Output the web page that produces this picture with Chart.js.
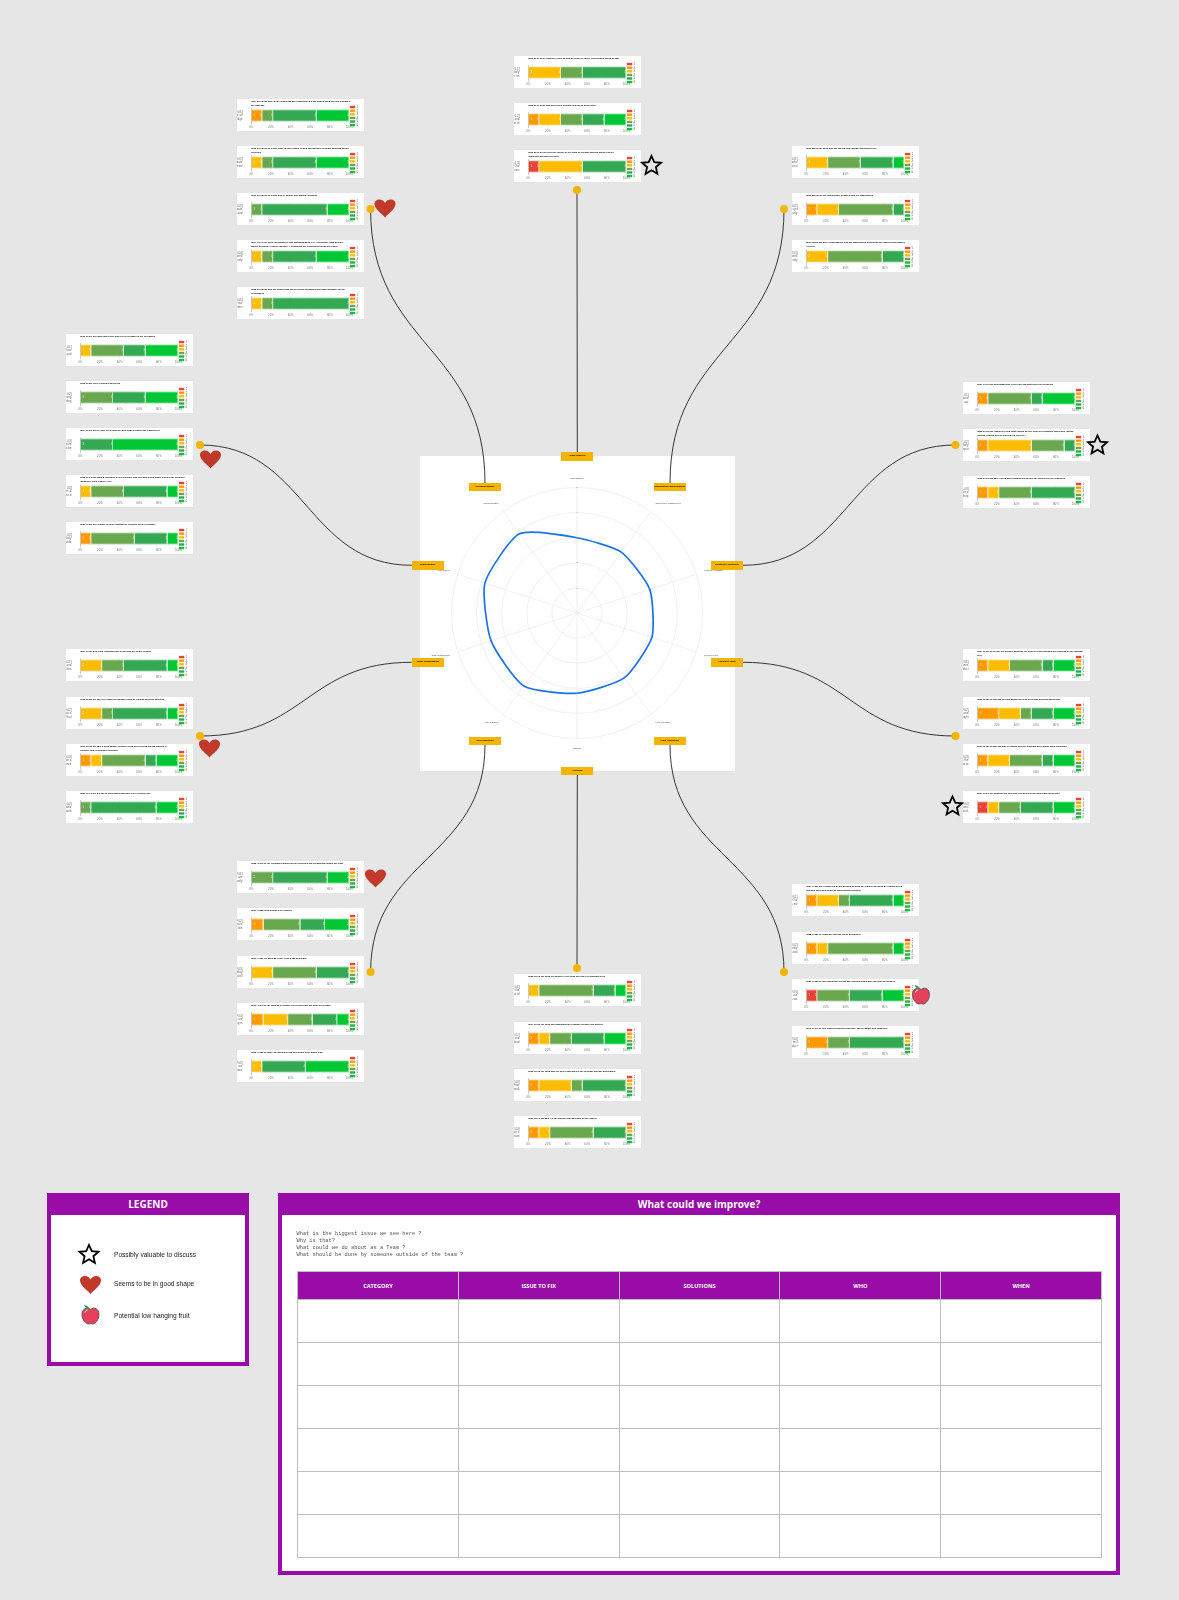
<!DOCTYPE html>
<html><head><meta charset="utf-8">
<script src="https://cdn.jsdelivr.net/npm/chart.js@4"></script>
<style>
html,body{margin:0;padding:0;background:#e6e6e6}
#page{position:relative;width:1179px;height:1600px;overflow:hidden;background:#e6e6e6;font-family:"Liberation Sans",Arial,sans-serif}
.card{position:absolute;width:126.5px;height:32px;background:#fff;overflow:hidden}
.card canvas{position:absolute;left:0;top:0}
.ct{position:absolute;left:14.3px;top:1.4px;font:bold 2.15px/3.6px "Liberation Sans";color:#000;white-space:nowrap}
#panel{position:absolute;left:420px;top:456px;width:315px;height:315px;background:#fff}
#panel canvas{position:absolute;left:0;top:0}
.tag{position:absolute;width:32px;height:8.5px;background:#f4b400;color:#000;font:bold 2.5px/8.5px "Liberation Sans";text-align:center;white-space:nowrap}
svg.over{position:absolute;left:0;top:0;pointer-events:none}
.box{position:absolute;box-sizing:border-box;border:4px solid #990ca8;background:#fff}
.hd{position:absolute;left:-4px;right:-4px;top:-4px;height:22px;background:#990ca8;color:#fff;font:bold 10px/22px "Open Sans";text-align:center}
.li{position:absolute;left:114px;font:6.6px/10px "Liberation Sans";color:#222;transform:translateZ(0)}
#q{position:absolute;left:296.5px;top:1231px;font:5.35px/7.1px "Liberation Mono";color:#555;white-space:pre;transform:translateZ(0)}
table{position:absolute;left:297px;top:1271px;width:805px;border-collapse:collapse;table-layout:fixed}
th,td{border:1px solid #bdbdbd;padding:0}
th{background:#990ca8;color:#fff;font:bold 5.6px "Open Sans";height:27px}
td{background:#fff;height:42px}
</style></head><body><div id="page">
<div id="panel"><canvas id="radar" width="315" height="315"></canvas></div>
<svg class="over" width="1179" height="1600" id="lines"></svg>
<div class="box" style="left:47px;top:1193px;width:202px;height:173px"><div class="hd">LEGEND</div></div>
<div class="box" style="left:278px;top:1193px;width:842px;height:382px"><div class="hd">What could we improve?</div></div>
<div class="li" style="top:1250px">Possibly valuable to discuss</div>
<div class="li" style="top:1279px">Seems to be in good shape</div>
<div class="li" style="top:1311px">Potential low hanging fruit</div>
<div id="q">What is the biggest issue we see here ?
Why is that?
What could we do about as a Team ?
What should be done by someone outside of the team ?</div>
<table id="tbl"></table>
</div>
<script>
// ---------- chart data ----------
const seriesNames = ['1','2','3','4','5','6'];
const seriesColors = ['#ea4335','#ff9900','#fbbc04','#6aa84f','#34a853','#00c733'];
const xTickLabels = ['0%','20%','40%','60%','80%','100%'];

const radarCategories = ['Team Stability','Stakeholder Management','Customer Centricity','Product Focus','Flow Validation','Purpose','Agile practices','Team Organization','Team culture','Communication'];
const radarValues = [3.0,3.0,3.05,3.14,3.2,3.2,3.6,3.6,3.86,3.9];
const radarTicks = [0,1,2,3,4,5];

const topTitles = [
 ['[Q01 ST.01.1] We regularly reflect on how we could be (more) improvement-based on that'],
 ['[Q02 ST.01.2] We plan and deliver in stable and not on-going basis'],
 ['[Q03 ST.01.3] Our deliveries involve all our team on relevant ongoing and at least on','improvements based on them']];
const topValues = [[0,0,3,2,4,0],[0,1,2,2,2,2],[1,0,4,0,4,0]];

const topLeftTitles = [
 ['[Q04 CO.01] We have all the knowledge and competences in the team to build the right product in','the right way'],
 ['[Q05 CO.02] We co-create value in new product-related workshops to generate solutions during','discovery'],
 ['[Q06 CO.03] We co-create and co-analyse and quantify solutions'],
 ['[Q07 CO.04] We work collaboratively with Marketing/Sales (e.g. Architecture, Data Science,','Market Research, Product Analytics...) throughout the Product Development Process'],
 ['[Q08 CO.05] We take our discussions and decisions transparent and understandable for the','organization']];
const topLeftValues = [[0,1,0,1,4,3],[0,0,1,1,4,3],[0,0,0,1,6,2],[0,0,1,1,4,3],[0,0,1,1,7,0]];

const topRightTitles = [
 ['[Q09 SM.01] We know who our internal and external stakeholders are'],
 ['[Q10 SM.02] We get continuously feedback from our stakeholders'],
 ['[Q11 SM.03] We work collaboratively with our stakeholders throughout the Product Development','Process']];
const topRightValues = [[0,0,2,3,3,1],[0,1,2,5,1,0],[0,0,2,5,2,0]];

const leftUpTitles = [
 ['[Q12 TC.01] We know how to give and receive feedback to our colleagues'],
 ['[Q13 TC.02] Have a strong team feeling'],
 ['[Q14 TC.03] We feel safe to be ourselves and speak up within the team/project'],
 ['[Q15 TC.04] We share & recognise a clear feedback with colleagues from higher levels of the hierarchy','(Bosshold, Third leaders, VPs)'],
 ['[Q16 TC.05] We regularly provide constructive feedback to our colleagues']];
const leftUpValues = [[0,0,1,3,2,3],[0,0,0,3,3,3],[0,0,0,0,3,6],[0,0,1,3,4,1],[0,1,0,4,3,1]];

const leftDownTitles = [
 ['[Q17 TO.01] Roles and responsibilities in our team are clearly defined'],
 ['[Q18 TO.02] We work as a team that improves itself on learning and team activities'],
 ['[Q19 TO.03] We have a good balance between being silos & functions and working in','balanced and collaborative teamings'],
 ['[Q20 TO.04] We are able to work asynchronously in our effective way']];
const leftDownValues = [[0,0,2,2,4,1],[0,0,2,1,5,1],[0,1,1,4,1,2],[0,0,0,1,6,2]];

const rightUpTitles = [
 ['[Q21 CC.01] We understand who is our user and what drives our problems'],
 ['[Q22 CC.02] We regularly review input coming directly from our customers (interviews, ratings,','reviews, support tickets) and react to (NPS etc.)'],
 ['[Q23 CC.03] We have a deep understanding about how our solutions fit our customers']];
const rightUpValues = [[0,1,0,4,1,3],[0,1,4,3,1,0],[0,1,1,3,4,0]];

const rightDownTitles = [
 ['[Q24 PF.01] We believe our product solutions, we focus on understanding the problems of our customer','first'],
 ['[Q25 PF.02] We test and try right amount of ideas to validate problems thoroughly'],
 ['[Q26 PF.03] We take the time to explore possible solutions and validate them thoroughly'],
 ['[Q27 PF.04] Our solutions are improved, fast at delivering significant value/result']];
const rightDownValues = [[0,1,2,3,1,2],[0,2,2,1,2,2],[0,1,2,3,1,2],[1,0,1,2,3,2]];

const bottomLeftTitles = [
 ['[Q28 AP.01] We are constantly improving our processes and collaboration within our team'],
 ['[Q29 AP.02] Retrospectives are effective'],
 ['[Q30 AP.03] Our Backlog is well refined and prioritized'],
 ['[Q31 AP.04] We are working in iterative cycles which are not much overloaded'],
 ['[Q32 AP.05] We make our intentions and increments fit the whole team']];
const bottomLeftValues = [[0,0,0,2,5,2],[0,1,0,3,2,2],[0,0,2,4,3,0],[0,1,2,2,2,1],[0,0,1,0,4,4]];

const bottomTitles = [
 ['[Q33 PU.01] We know the purpose of our team and how it is important to us'],
 ['[Q34 PU.02] We know and understand the company purpose and strategy'],
 ['[Q35 PU.03] We know how our work contributes to the company purpose and strategy'],
 ['[Q36 PU.04] We have a clear mission and ownership of our product']];
const bottomValues = [[0,0,1,5,2,1],[0,1,1,2,3,2],[0,1,3,1,4,0],[0,1,1,4,3,0]];

const bottomRightTitles = [
 ['[Q37 FV.01] Our Hypotheses we are working on when we explore new ideas are Hypothesis on','potential outcomes before we start building solutions'],
 ['[Q38 FV.02] We frequently test and revise hypotheses'],
 ['[Q39 FV.03] We use hypotheses we test and can understand why each test did succeed'],
 ['[Q40 FV.04] We test product solutions frequently, fast in contact with customers']];
const bottomRightValues = [[0,1,2,1,4,1],[0,1,1,6,0,1],[1,0,0,3,3,2],[0,2,0,2,5,0]];

const tableHeaders = ['CATEGORY','ISSUE TO FIX','SOLUTIONS','WHO','WHEN'];

// ---------- layout ----------
const groups = [
 {x:514, ys:[56,103,150], t:topTitles, v:topValues},
 {x:237, ys:[99,146,193,240,287], t:topLeftTitles, v:topLeftValues},
 {x:792, ys:[146,193,240], t:topRightTitles, v:topRightValues},
 {x:66,  ys:[334,381,428,475,522], t:leftUpTitles, v:leftUpValues},
 {x:66,  ys:[649,697,744,791], t:leftDownTitles, v:leftDownValues},
 {x:963, ys:[382,429,476], t:rightUpTitles, v:rightUpValues},
 {x:963, ys:[649,697,744,791], t:rightDownTitles, v:rightDownValues},
 {x:237, ys:[861,908,956,1003,1050], t:bottomLeftTitles, v:bottomLeftValues},
 {x:514, ys:[974,1022,1069,1116], t:bottomTitles, v:bottomValues},
 {x:792, ys:[884,932,979,1026], t:bottomRightTitles, v:bottomRightValues}
];
const page = document.getElementById('page');

const segLabels = {id:'segLabels', afterDatasetsDraw(c){
  const g=c.ctx; g.save(); g.font='2.6px "Liberation Sans"'; g.textBaseline='middle';
  let first=true;
  c.data.datasets.forEach((d,i)=>{
    const el=c.getDatasetMeta(i).data[0]; const v=d.data[0];
    if(!v) return;
    if(first){g.fillStyle='rgba(255,255,255,.95)';g.textAlign='left';g.fillText(String(v),el.base+2,el.y);first=false;}
    g.fillStyle='rgba(255,255,255,.7)';g.textAlign='right';g.fillText(String(v),el.x-0.8,el.y);
  });
  g.restore();
}};

function wrapLabel(lines){
  const words=lines.join(' ').split(' '), out=[]; let cur='';
  for(const w of words){ if((cur+' '+w).length>13 && cur){out.push(cur);cur=w;if(out.length==3)break;} else cur=cur?cur+' '+w:w; }
  if(out.length<3) out.push(cur);
  return out.slice(0,3);
}

groups.forEach(gr=>gr.ys.forEach((y,k)=>{
  const card=document.createElement('div'); card.className='card';
  card.style.left=gr.x+'px'; card.style.top=y+'px';
  const cv=document.createElement('canvas'); cv.width=127; cv.height=32; card.appendChild(cv);
  const tt=document.createElement('div'); tt.className='ct'; tt.innerHTML=gr.t[k].join('<br>'); card.appendChild(tt);
  page.appendChild(card);
  const vals=gr.v[k], total=vals.reduce((a,b)=>a+b,0);
  new Chart(cv,{type:'bar',
    data:{labels:[wrapLabel(gr.t[k])],
      datasets:seriesNames.map((n,i)=>({label:n,data:[vals[i]],backgroundColor:seriesColors[i],borderColor:seriesColors[i]+'66',borderWidth:1,barPercentage:0.82,categoryPercentage:1}))},
    options:{indexAxis:'y',responsive:false,animation:false,devicePixelRatio:1,
      layout:{padding:{top:6,right:-4.2,left:0,bottom:0}},
      plugins:{title:{display:true,fullSize:false,text:' ',padding:0,font:{size:3,lineHeight:1}},tooltip:{enabled:false},
        legend:{position:'right',align:'start',labels:{boxWidth:5,boxHeight:2,padding:0.6,font:{size:3,lineHeight:1,family:'Liberation Sans'},color:'#666'}}},
      scales:{
        x:{stacked:true,min:0,max:total,afterBuildTicks(s){s.ticks=xTickLabels.map((_,j)=>({value:total*j/5}));},
           ticks:{autoSkip:false,maxRotation:0,padding:0.5,font:{size:2.9,family:'Liberation Sans'},color:'#777',callback:(v,j)=>xTickLabels[j]},
           grid:{color:'#eee',lineWidth:0.5,tickLength:2},border:{display:false},afterFit(s){s.height=8;}},
        y:{stacked:true,ticks:{padding:0.8,font:{size:3,family:'Liberation Sans'},color:'#666'},
           grid:{display:false},border:{color:'#aaa',width:0.6},afterFit(s){s.width=14.3;}}
      }},
    plugins:[segLabels]});
}));

// radar
new Chart(document.getElementById('radar'),{type:'radar',
  data:{labels:radarCategories,datasets:[{data:radarValues,borderColor:'#1a73e8',borderWidth:1.7,fill:false,pointRadius:0,tension:0.2,backgroundColor:'transparent'}]},
  options:{responsive:false,animation:false,devicePixelRatio:1,layout:{padding:11.4},
    plugins:{legend:{display:false},tooltip:{enabled:false}},
    scales:{r:{min:0,max:5,afterBuildTicks(s){s.ticks=radarTicks.map(v=>({value:v}));},
      ticks:{showLabelBackdrop:false,font:{size:2.4},color:'#777',z:1},
      grid:{circular:true,color:'#ececec',lineWidth:0.8},angleLines:{color:'#ececec',lineWidth:0.8},
      pointLabels:{font:{size:2.2,family:'Liberation Sans'},color:'#444',padding:5}}}}});

// tags
const tagPos=[[577.3,456.7,0],[669.7,487,1],[727,565.3,2],[727,662.3,3],[669.7,741,4],[577.3,771,5],[484.7,741,6],[427.8,662.3,7],[427.8,565.3,8],[484.7,487,9]];
tagPos.forEach(p=>{const d=document.createElement('div');d.className='tag';d.style.left=(p[0]-16)+'px';d.style.top=(p[1]-4.25)+'px';d.textContent=radarCategories[p[2]];page.appendChild(d);});

// connectors
const conns=[
 'M577.3 452.5 L577 190',
 'M670 483 C670 346 784 346 784 209',
 'M743 565.3 C849 565.3 849 445 955.5 445',
 'M743 662.3 C849 662.3 849 736 955.5 736',
 'M670 745 C670 858 784 858 784 972',
 'M577.3 775 L577 968',
 'M485 745 C485 858 370.6 858 370.6 972',
 'M411.8 662.3 C306 662.3 306 736 200 736',
 'M411.8 565.3 C306 565.3 306 445 200 445',
 'M485 483 C485 346 370.6 346 370.6 209'];
const dots=[[577,190],[784,209],[955.5,445],[955.5,736],[784,972],[577,968],[370.6,972],[200,736],[200,445],[370.6,209]];
document.getElementById('lines').innerHTML=conns.map(d=>`<path d="${d}" fill="none" stroke="#222" stroke-width="0.9"/>`).join('');
const STAR='M0 -9.5 L2.8 -3.3 L9.5 -2.7 L4.4 1.7 L5.9 8.3 L0 4.8 L-5.9 8.3 L-4.4 1.7 L-9.5 -2.7 L-2.8 -3.3 Z';
const HEART='M0 9.5 C-3 6 -10.5 1 -10.5 -4 C-10.5 -9 -3 -10.5 0 -5 C3 -10.5 10.5 -9 10.5 -4 C10.5 1 3 6 0 9.5 Z';
const star=(x,y,f)=>`<path transform="translate(${x} ${y})" d="${STAR}" fill="${f}" stroke="#000" stroke-width="1.8" stroke-linejoin="miter"/>`;
const heart=(x,y)=>`<path transform="translate(${x} ${y})" d="${HEART}" fill="#c0392b"/>`;
const apple=(x,y)=>`<g transform="translate(${x} ${y})"><path d="M0 -5.5 C4 -8.5 8.5 -6 8.5 -0.5 C8.5 5 4.5 9 2 9 C1 9 0.6 8.5 0 8.5 C-0.6 8.5 -1 9 -2 9 C-4.5 9 -8.5 5 -8.5 -0.5 C-8.5 -6 -4 -8.5 0 -5.5Z" fill="#e8405a" stroke="#555" stroke-width="0.9"/><path d="M-1 -6 C-3 -9.5 -5 -9.5 -6 -9.5 C-5 -7 -3 -6 -1 -6Z" fill="#2e9e4f" stroke="#2a6" stroke-width="0.5"/><path d="M-5.5 -2.5 C-5.5 -4 -4 -5 -3 -5" stroke="#fff" stroke-width="1" fill="none"/></g>`;
const icons=document.createElementNS('http://www.w3.org/2000/svg','svg');
icons.setAttribute('class','over');icons.setAttribute('width','1179');icons.setAttribute('height','1600');
icons.innerHTML=
 dots.map(d=>`<circle cx="${d[0]}" cy="${d[1]}" r="4" fill="#f4b400"/>`).join('')+
 star(651.5,165.5,'none')+star(1097.5,445,'none')+star(952.5,806,'none')+
 heart(385,208)+heart(210.5,459)+heart(209.5,748)+heart(375.5,878)+apple(921,995)+
 star(89,1254.5,'none')+heart(90.5,1284.5)+apple(90.5,1315);
page.appendChild(icons);

// table
const rows=[...Array(6)].map(()=>'<tr>'+tableHeaders.map(()=>'<td></td>').join('')+'</tr>').join('');
document.getElementById('tbl').innerHTML='<tr>'+tableHeaders.map(h=>`<th>${h}</th>`).join('')+'</tr>'+rows;
</script>
</body></html>
